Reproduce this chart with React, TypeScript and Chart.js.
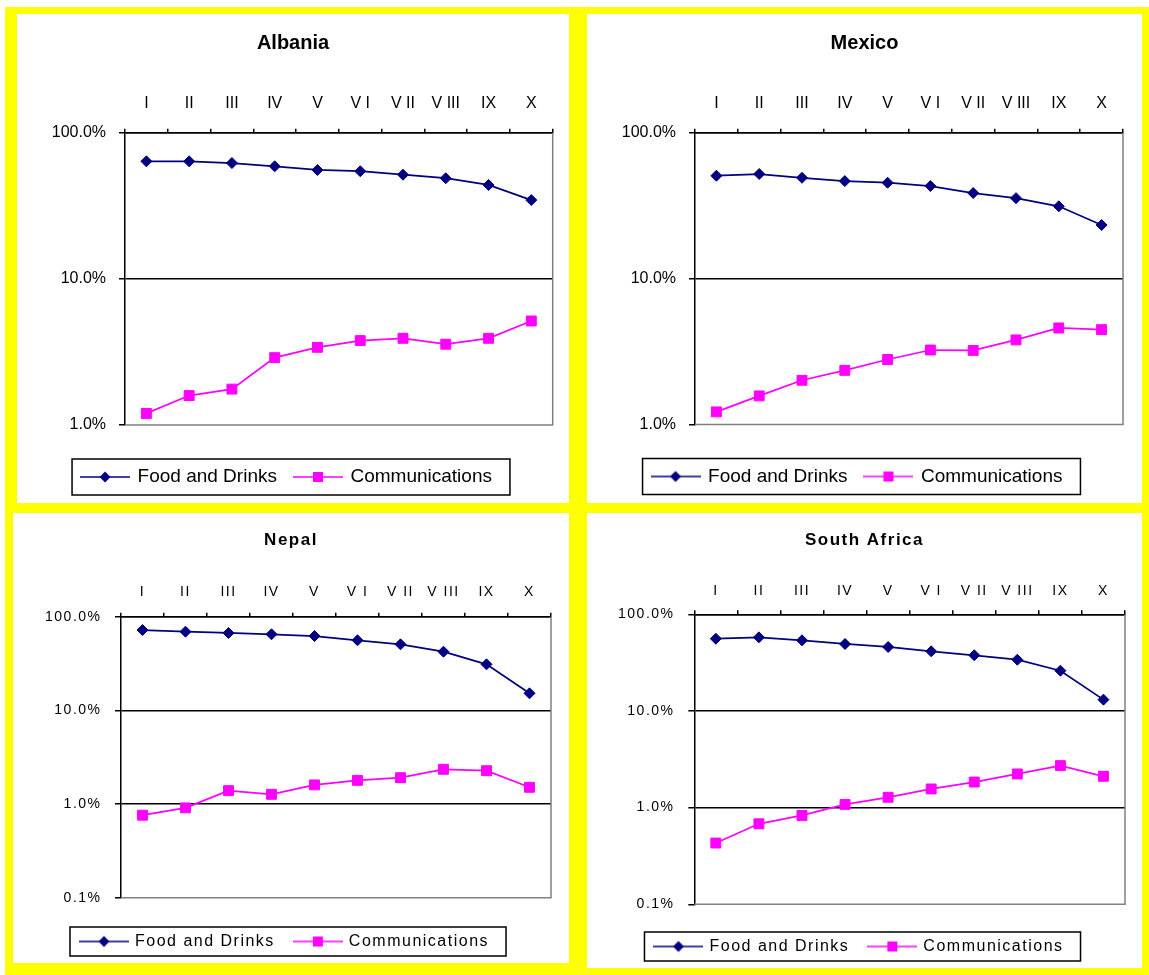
import React, { useEffect, useRef } from "react";
import { Chart, registerables } from "chart.js";

Chart.register(...registerables);

// ---------- data ----------
const categories = ["I", "II", "III", "IV", "V", "V I", "V II", "V III", "IX", "X"];
const seriesNames = ["Food and Drinks", "Communications"];

const albaniaFood = [63.7, 63.7, 62.0, 58.9, 55.6, 54.5, 51.6, 48.8, 43.9, 34.6];
const albaniaComm = [1.2, 1.59, 1.76, 2.89, 3.4, 3.78, 3.92, 3.57, 3.92, 5.15];

const mexicoFood = [50.7, 52.1, 49.1, 46.6, 45.4, 43.1, 38.6, 35.6, 31.3, 23.3];
const mexicoComm = [1.22, 1.57, 2.01, 2.35, 2.79, 3.24, 3.22, 3.8, 4.59, 4.47];

const nepalFood = [72.1, 69.2, 67.0, 64.9, 62.2, 56.0, 50.7, 42.3, 31.0, 15.2];
const nepalComm = [0.76, 0.91, 1.39, 1.27, 1.6, 1.79, 1.91, 2.35, 2.27, 1.51];

const southAfricaFood = [55.9, 57.8, 53.8, 49.3, 45.9, 41.4, 37.7, 33.9, 26.1, 13.1];
const southAfricaComm = [0.43, 0.68, 0.83, 1.08, 1.28, 1.56, 1.84, 2.23, 2.72, 2.11];

const yTicksTop = [1, 10, 100];
const yTicksBottom = [0.1, 1, 10, 100];

// ---------- styles ----------
const NAVY = "#000080";
const MAGENTA = "#ff00ff";
const FONT = "'Liberation Sans', Arial, Helvetica, sans-serif";

type Spec = {
  title: string;
  food: number[];
  comm: number[];
  yTicks: number[];
  box: { x: number; y: number; w: number; h: number };
  titleSize: number;
  titleTop: number;
  xAxisH: number;
  tickSize: number;
  xTickPad: number;
  yAxisW: number;
  yTickPad: number;
  padX: number;
  padBottom: number;
  legendSize: number;
  legendPad: number;
  legendGap: number;
  legendShift: number;
  spacing: number;
  frameLeft: number;
  frameRight: number;
  frameHalf: number;
};

const panels: Spec[] = [
  {
    title: "Albania", food: albaniaFood, comm: albaniaComm, yTicks: yTicksTop,
    box: { x: 17, y: 14, w: 552, h: 489 },
    titleSize: 20, titleTop: 17, xAxisH: 77.7, tickSize: 16, xTickPad: 15.1,
    yAxisW: 91.7, yTickPad: 13, padX: 16.3, padBottom: 6.5,
    legendSize: 19, legendPad: 18, legendGap: 24.5, legendShift: -6, spacing: 0,
    frameLeft: 10, frameRight: 18, frameHalf: 18,
  },
  {
    title: "Mexico", food: mexicoFood, comm: mexicoComm, yTicks: yTicksTop,
    box: { x: 587, y: 14, w: 555, h: 489 },
    titleSize: 20, titleTop: 17, xAxisH: 77.7, tickSize: 16, xTickPad: 15.1,
    yAxisW: 89, yTickPad: 13, padX: 19, padBottom: 7,
    legendSize: 19, legendPad: 18, legendGap: 24.5, legendShift: -7, spacing: 0,
    frameLeft: 10, frameRight: 18, frameHalf: 18,
  },
  {
    title: "Nepal", food: nepalFood, comm: nepalComm, yTicks: yTicksBottom,
    box: { x: 13, y: 513, w: 556, h: 450 },
    titleSize: 17, titleTop: 16.8, xAxisH: 66.5, tickSize: 14, xTickPad: 12.6,
    yAxisW: 90, yTickPad: 13.5, padX: 18, padBottom: 3.5,
    legendSize: 16, legendPad: 20, legendGap: 15.8, legendShift: -6, spacing: 1.5,
    frameLeft: 11, frameRight: 17, frameHalf: 14.5,
  },
  {
    title: "South Africa", food: southAfricaFood, comm: southAfricaComm, yTicks: yTicksBottom,
    box: { x: 587, y: 513, w: 555, h: 455 },
    titleSize: 17, titleTop: 16.8, xAxisH: 64.1, tickSize: 14, xTickPad: 11.2,
    yAxisW: 90.3, yTickPad: 13.8, padX: 17, padBottom: 3.5,
    legendSize: 16, legendPad: 20, legendGap: 14.2, legendShift: -5, spacing: 1.5,
    frameLeft: 11, frameRight: 17, frameHalf: 14.5,
  },
];

function makeMarker(color: string, shape: "diamond" | "square") {
  const w = 50;
  const h = 14;
  const c = document.createElement("canvas");
  c.width = w;
  c.height = h;
  const g = c.getContext("2d")!;
  g.strokeStyle = color;
  g.lineWidth = 1.5;
  g.beginPath();
  g.moveTo(0, h / 2);
  g.lineTo(w, h / 2);
  g.stroke();
  g.fillStyle = color;
  if (shape === "diamond") {
    const r = 5.5;
    g.beginPath();
    g.moveTo(w / 2 - r, h / 2);
    g.lineTo(w / 2, h / 2 - r);
    g.lineTo(w / 2 + r, h / 2);
    g.lineTo(w / 2, h / 2 + r);
    g.closePath();
    g.fill();
  } else {
    const s = 10;
    g.fillRect(w / 2 - s / 2, h / 2 - s / 2, s, s);
  }
  return c;
}

function buildConfig(p: Spec): any {
  const markers = [makeMarker(NAVY, "diamond"), makeMarker(MAGENTA, "square")];
  const yMin = p.yTicks[0];
  const yMax = p.yTicks[p.yTicks.length - 1];

  const spacingPlugin = {
    id: "letterSpacing",
    beforeUpdate(chart: any) {
      (chart.ctx as any).letterSpacing = p.spacing + "px";
    },
    beforeDraw(chart: any) {
      (chart.ctx as any).letterSpacing = p.spacing + "px";
    },
  };

  const legendShiftPlugin = {
    id: "legendShift",
    afterLayout(chart: any) {
      const lg = chart.legend;
      if (!lg) return;
      lg.left += p.legendShift;
      lg.right += p.legendShift;
    },
  };

  const plotBorderPlugin = {
    id: "plotBorder",
    beforeDatasetsDraw(chart: any) {
      const { ctx, chartArea: a } = chart;
      ctx.save();
      ctx.strokeStyle = "#808080";
      ctx.lineWidth = 1.5;
      ctx.beginPath();
      ctx.moveTo(a.right, a.top);
      ctx.lineTo(a.right, a.bottom);
      ctx.lineTo(a.left, a.bottom);
      ctx.stroke();
      ctx.restore();
    },
  };

  const legendFramePlugin = {
    id: "legendFrame",
    afterDraw(chart: any) {
      const lg = chart.legend;
      if (!lg || !lg.legendHitBoxes || !lg.legendHitBoxes.length) return;
      const hb = lg.legendHitBoxes;
      const first = hb[0];
      const last = hb[hb.length - 1];
      const cy = first.top + first.height / 2;
      const left = first.left - p.frameLeft;
      const right = last.left + last.width + p.frameRight;
      const ctx = chart.ctx;
      ctx.save();
      ctx.strokeStyle = "#000";
      ctx.lineWidth = 1.5;
      ctx.strokeRect(left, cy - p.frameHalf, right - left, p.frameHalf * 2);
      ctx.restore();
    },
  };

  return {
    type: "line",
    data: {
      labels: categories,
      datasets: [
        {
          label: seriesNames[0],
          data: p.food,
          borderColor: NAVY,
          backgroundColor: NAVY,
          pointBackgroundColor: NAVY,
          pointBorderColor: NAVY,
          pointStyle: "rectRot",
          pointRadius: 5.5,
          pointBorderWidth: 1,
          borderWidth: 1.75,
          tension: 0,
        },
        {
          label: seriesNames[1],
          data: p.comm,
          borderColor: MAGENTA,
          backgroundColor: MAGENTA,
          pointBackgroundColor: MAGENTA,
          pointBorderColor: MAGENTA,
          pointStyle: "rect",
          pointRadius: 7,
          pointBorderWidth: 1,
          borderWidth: 1.75,
          tension: 0,
        },
      ],
    },
    options: {
      animation: false,
      responsive: false,
      events: [],
      layout: { padding: { left: p.padX, right: p.padX, top: 0, bottom: p.padBottom } },
      plugins: {
        title: {
          display: true,
          text: p.title,
          color: "#000",
          font: { family: FONT, size: p.titleSize, weight: "bold" },
          padding: { top: p.titleTop, bottom: 0 },
        },
        legend: {
          display: true,
          position: "bottom",
          title: {
            display: true,
            text: "",
            font: { family: FONT, size: 1 },
            padding: { top: p.legendGap - 1.2, bottom: 0 },
          },
          labels: {
            usePointStyle: true,
            pointStyleWidth: 46,
            padding: p.legendPad,
            color: "#000",
            font: { family: FONT, size: p.legendSize },
            generateLabels(chart: any) {
              const items = Chart.defaults.plugins.legend.labels.generateLabels(chart);
              items.forEach((it: any, i: number) => {
                it.pointStyle = markers[i];
              });
              return items;
            },
          },
        },
        tooltip: { enabled: false },
      },
      scales: {
        x: {
          type: "category",
          position: "top",
          offset: true,
          grid: {
            offset: true,
            drawOnChartArea: false,
            drawTicks: true,
            tickLength: 4,
            color: "#000",
            lineWidth: 1.5,
          },
          border: { display: true, color: "#000", width: 1.5 },
          ticks: {
            color: "#000",
            font: { family: FONT, size: p.tickSize },
            padding: p.xTickPad,
            autoSkip: false,
            maxRotation: 0,
            minRotation: 0,
          },
          afterFit(s: any) {
            s.height = p.xAxisH;
          },
        },
        y: {
          type: "logarithmic",
          min: yMin,
          max: yMax,
          afterBuildTicks(s: any) {
            s.ticks = p.yTicks.map((v) => ({ value: v }));
          },
          ticks: {
            color: "#000",
            font: { family: FONT, size: p.tickSize },
            padding: p.yTickPad,
            callback: (v: any) => Number(v).toFixed(1) + "%",
          },
          grid: {
            color: (ctx: any) => (ctx.tick && ctx.tick.value === yMin ? "rgba(0,0,0,0)" : "#000"),
            tickColor: "#000",
            tickLength: 6,
            lineWidth: 1.5,
          },
          border: { display: true, color: "#000", width: 1.5 },
          afterFit(s: any) {
            s.width = p.yAxisW;
          },
        },
      },
    },
    plugins: [spacingPlugin, legendShiftPlugin, plotBorderPlugin, legendFramePlugin],
  };
}

function ChartPanel({ spec }: { spec: Spec }) {
  const ref = useRef<HTMLCanvasElement>(null);
  useEffect(() => {
    if (!ref.current) return;
    const chart = new Chart(ref.current, buildConfig(spec));
    return () => chart.destroy();
  }, [spec]);
  const b = spec.box;
  return (
    <div
      style={{
        position: "absolute",
        left: b.x,
        top: b.y,
        width: b.w,
        height: b.h,
        background: "#ffffff",
      }}
    >
      <canvas ref={ref} width={b.w} height={b.h} style={{ display: "block", width: b.w, height: b.h }} />
    </div>
  );
}

export default function App() {
  return (
    <div
      style={{
        position: "absolute",
        left: 0,
        top: 0,
        width: 1149,
        height: 975,
        background: "#ffffff",
        overflow: "hidden",
      }}
    >
      <div
        style={{
          position: "absolute",
          left: 5,
          top: 7,
          width: 1144,
          height: 968,
          background: "#ffff00",
        }}
      />
      {panels.map((p) => (
        <ChartPanel key={p.title} spec={p} />
      ))}
    </div>
  );
}
